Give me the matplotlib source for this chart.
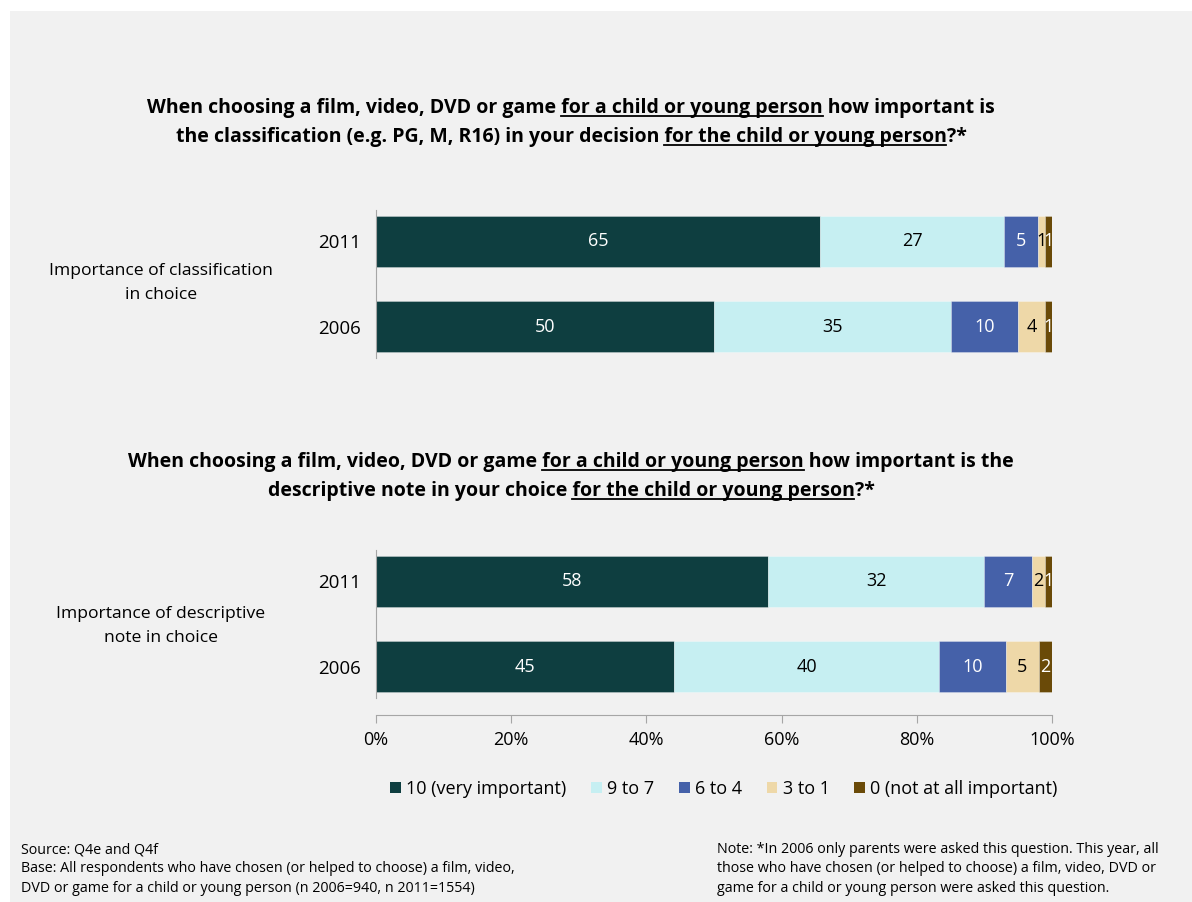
import numpy as np
import matplotlib.pyplot as plt
from matplotlib.patches import Rectangle, Patch
from matplotlib.lines import Line2D

plt.rcParams['font.family'] = ['Open Sans', 'DejaVu Sans']

W, H = 1192, 902

categories = ['10 (very important)', '9 to 7', '6 to 4', '3 to 1', '0 (not at all important)']
years = ['2011', '2006']

classification_2011 = [65, 27, 5, 1, 1]
classification_2006 = [50, 35, 10, 4, 1]
descriptive_2011 = [58, 32, 7, 2, 1]
descriptive_2006 = [45, 40, 10, 5, 2]

colors = ['#0e3e40', '#c6eff2', '#4561a9', '#eed8a8', '#6a4a08']
text_colors = ['white', 'black', 'white', 'black', 'white']

fig = plt.figure(figsize=(W / 100, H / 100), dpi=100)
fig.patch.set_facecolor('white')
fig.add_artist(Rectangle((10 / W, 0), 1, 1 - 11 / H, transform=fig.transFigure,
                         facecolor='#f1f1f1', edgecolor='none', zorder=-10))


def px(x, y_top):
    # pixel position (from top-left) -> figure fraction
    return x / W, 1 - y_top / H


def draw_panel(ax, rows, show_x):
    for i, vals in enumerate(rows):
        total = sum(vals)
        left = 0
        for j, v in enumerate(vals):
            w = v / total * 100
            ax.barh(i, w, left=left, height=0.61, color=colors[j],
                    edgecolor='#ffffff55', linewidth=0.6)
            ax.text(left + w / 2, i, str(v), ha='center', va='center',
                    color=text_colors[j], fontsize=13)
            left += w
    ax.set_xlim(0, 100)
    ax.set_ylim(1.37, -0.37)
    ax.set_yticks([0, 1], years, fontsize=13.5)
    ax.tick_params(axis='y', length=0, pad=11)
    ax.set_facecolor('none')
    for s in ['top', 'right']:
        ax.spines[s].set_visible(False)
    ax.spines['left'].set_color('#a6a6a6')
    if show_x:
        ax.spines['bottom'].set_position(('outward', 12))
        ax.spines['bottom'].set_color('#a6a6a6')
        ax.set_xticks(np.arange(0, 101, 20), [f'{t}%' for t in range(0, 101, 20)])
        ax.tick_params(axis='x', length=6, color='#a6a6a6', labelsize=13, pad=6)
    else:
        ax.spines['bottom'].set_visible(False)
        ax.set_xticks([])


ax1 = fig.add_axes([376 / W, 1 - 358 / H, 676 / W, 148 / H])
ax2 = fig.add_axes([376 / W, 1 - 698 / H, 676 / W, 148 / H])
draw_panel(ax1, [classification_2011, classification_2006], False)
draw_panel(ax2, [descriptive_2011, descriptive_2006], True)

fig.text(*px(161, 283), 'Importance of classification\nin choice', ha='center', va='center',
         fontsize=12.6, linespacing=1.6)
fig.text(*px(161, 626), 'Importance of descriptive\nnote in choice', ha='center', va='center',
         fontsize=12.6, linespacing=1.6)

renderer = fig.canvas.get_renderer()


def text_width(s, size):
    t = fig.text(0, 0, s + '|', fontsize=size, weight='bold')
    w = t.get_window_extent(renderer).width
    t.remove()
    return w


def underlined_title(lines, baselines, cx, size=14):
    bar_w = text_width('', size)
    for segs, base in zip(lines, baselines):
        full = ''.join(s for s, _ in segs)
        total = text_width(full, size) - bar_w
        x0 = cx - total / 2
        y = H - base
        fig.text(x0 / W, y / H, full, fontsize=size, weight='bold', ha='left', va='baseline')
        prefix = ''
        for s, ul in segs:
            if ul:
                xa = x0 + text_width(prefix, size) - bar_w
                xb = x0 + text_width(prefix + s, size) - bar_w
                fig.add_artist(Line2D([xa / W, xb / W], [(y - 3) / H] * 2,
                                      transform=fig.transFigure, color='black', lw=1.3))
            prefix += s


underlined_title(
    [[('When choosing a film, video, DVD or game ', False), ('for a child or young person', True),
      (' how important is', False)],
     [('the classification (e.g. PG, M, R16) in your decision ', False),
      ('for the child or young person', True), ('?*', False)]],
    [113, 142], 571)

underlined_title(
    [[('When choosing a film, video, DVD or game ', False), ('for a child or young person', True),
      (' how important is the', False)],
     [('descriptive note in your choice ', False),
      ('for the child or young person', True), ('?*', False)]],
    [467, 496], 571)

handles = [Patch(facecolor=c, edgecolor='none') for c in colors]
fig.legend(handles, categories, loc='center', bbox_to_anchor=(724 / W, 1 - 789 / H),
           ncol=5, frameon=False, fontsize=13, handlelength=0.6, handleheight=0.6,
           handletextpad=0.3, columnspacing=1.35)

fig.text(*px(21, 842), 'Source: Q4e and Q4f\n'
         'Base: All respondents who have chosen (or helped to choose) a film, video,\n'
         'DVD or game for a child or young person (n 2006=940, n 2011=1554)',
         ha='left', va='top', fontsize=10.3, linespacing=1.4)
fig.text(*px(717, 842), 'Note: *In 2006 only parents were asked this question. This year, all\n'
         'those who have chosen (or helped to choose) a film, video, DVD or\n'
         'game for a child or young person were asked this question.',
         ha='left', va='top', fontsize=10.3, linespacing=1.4)

fig.savefig('out.png', dpi=100, facecolor=fig.get_facecolor())
